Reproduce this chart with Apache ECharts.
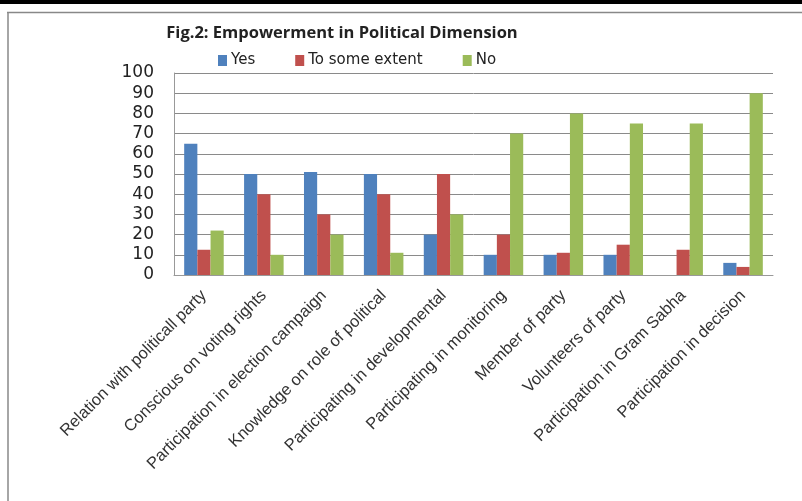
<!DOCTYPE html>
<html>
<head>
<meta charset="utf-8">
<script src="https://cdn.jsdelivr.net/npm/echarts@6/dist/echarts.min.js"></script>
<style>html,body{margin:0;padding:0;background:#fff;}#c{width:802px;height:501px;}</style>
</head>
<body>
<div id="c"></div>
<script>
const categories = [
  "Relation with politicall party",
  "Conscious on voting rights",
  "Participation in election campaign",
  "Knowledge on role of political",
  "Participating in developmental",
  "Participating in monitoring",
  "Member of party",
  "Volunteers of party",
  "Participation in Gram Sabha",
  "Participation in decision"
];
const yesValues = [65, 50, 51, 50, 20, 10, 10, 10, 0, 6];
const someValues = [12.5, 40, 30, 40, 50, 20, 11, 15, 12.5, 4];
const noValues = [22, 10, 20, 11, 30, 70, 80, 75, 75, 90];
const seriesNames = ["Yes", "To some extent", "No"];
const colors = ["#4F81BD", "#C0504D", "#9BBB59"];

const chart = echarts.init(document.getElementById('c'), null, {renderer: 'canvas'});
const mk = (name, data, color) => ({
  name, type: 'bar', data, barGap: '0%', barCategoryGap: '34%',
  itemStyle: {color}, emphasis: {disabled: true}
});
chart.setOption({
  animation: false,
  backgroundColor: '#fff',
  color: colors,
  title: {
    text: 'Fig.2: Empowerment in Political Dimension',
    left: 337, top: 20, textAlign: 'center',
    textStyle: {fontFamily: 'Open Sans', fontWeight: 'bold', fontSize: 16.5, color: '#222'}
  },
  legend: {
    left: 213, top: 48, itemWidth: 9, itemHeight: 11, itemGap: 40,
    icon: 'rect', data: seriesNames,
    textStyle: {fontFamily: 'DejaVu Sans', fontSize: 15, color: '#222', padding: [0,0,0,-1]}
  },
  grid: {left: 174, right: 29, top: 73, bottom: 226, outerBoundsMode: 'none', containLabel: false},
  xAxis: {
    type: 'category', data: categories,
    axisLine: {show: true, lineStyle: {color: '#999', width: 1}},
    axisTick: {show: false},
    axisLabel: {rotate: 45, interval: 0, margin: 18, fontFamily: 'Liberation Sans', fontSize: 16.5, color: '#333'}
  },
  yAxis: {
    type: 'value', min: 0, max: 100, interval: 10,
    axisLine: {show: true, lineStyle: {color: '#999', width: 1}},
    axisTick: {show: false},
    splitLine: {lineStyle: {color: '#8a8a8a', width: 1}},
    axisLabel: {fontFamily: 'DejaVu Sans', fontSize: 17, color: '#222', margin: 20}
  },
  graphic: [
    {type: 'rect', shape: {x: 0, y: 0, width: 802, height: 4}, style: {fill: '#000'}, silent: true},
    {type: 'line', shape: {x1: 7, y1: 12.5, x2: 802, y2: 12.5}, style: {stroke: '#888', lineWidth: 1.5}, silent: true},
    {type: 'line', shape: {x1: 8, y1: 12, x2: 8, y2: 501}, style: {stroke: '#888', lineWidth: 1.5}, silent: true}
  ],
  series: [
    mk(seriesNames[0], yesValues, colors[0]),
    mk(seriesNames[1], someValues, colors[1]),
    mk(seriesNames[2], noValues, colors[2])
  ]
});
</script>
</body>
</html>
